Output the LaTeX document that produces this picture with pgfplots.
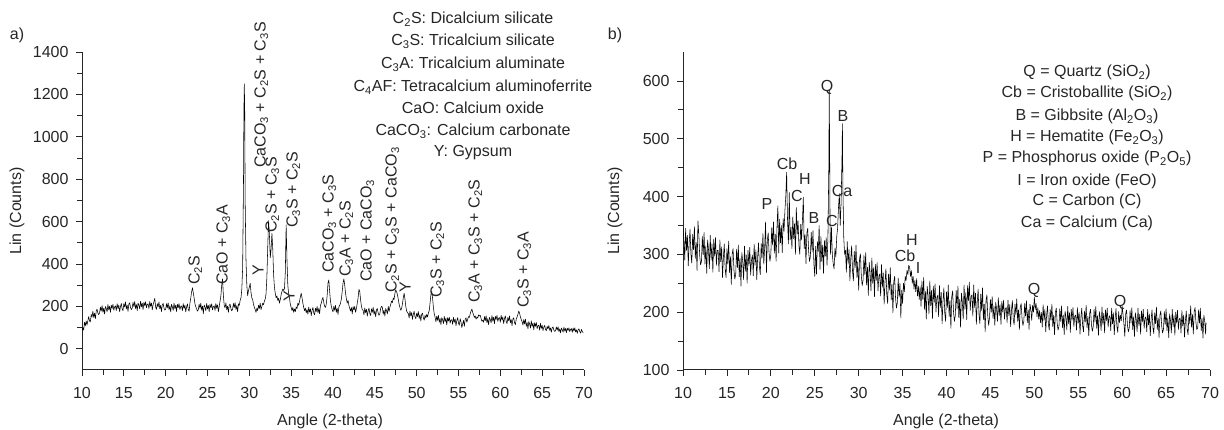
\documentclass[border=0pt]{standalone}
\usepackage{pgfplots}
\pgfplotsset{compat=1.18}
\usepackage{fontspec}
\setmainfont{Liberation Sans}
\newcommand{\s}[1]{\textsubscript{#1}}
\begin{document}
\begin{tikzpicture}[x=1pt,y=1pt,font=\fontsize{16}{19}\selectfont,every node/.style={text=black!85}]
\useasboundingbox (0,0) rectangle (1224,430);
\pgfplotsset{xrdaxis/.style={scale only axis, axis lines=left,
  axis line style={-, line width=1pt, black!85}, tick align=outside,
  major tick length=6pt, minor tick length=5pt,
  every tick/.style={black!85, line width=0.8pt},
  xmin=10, xmax=70, xtick={10,15,...,70}, minor x tick num=1, minor y tick num=1,
  tick label style={font=\fontsize{16}{19}\selectfont, text=black!85},
  xticklabel style={yshift=-8pt}, yticklabel style={xshift=-4pt},
  /pgf/number format/assume math mode=true, /pgf/number format/1000 sep={},
  scaled ticks=false, anchor=south west}}
% ---------------- panel a
\begin{axis}[xrdaxis, at={(82pt,60pt)}, width=502pt, height=318pt,
  ymin=-100, ymax=1400, ytick={0,200,...,1400}]
\addplot[black, line width=0.55pt, mark=none, line join=round] coordinates {
(10.0,85) (10.1,100) (10.2,88) (10.3,125) (10.4,108) (10.5,131) (10.6,112) (10.7,133) (10.8,152) (10.9,131)
(11.0,127) (11.1,162) (11.2,149) (11.3,177) (11.4,148) (11.5,168) (11.6,142) (11.7,178) (11.8,187) (11.9,168)
(12.0,161) (12.1,169) (12.2,197) (12.3,178) (12.4,204) (12.5,172) (12.6,192) (12.7,164) (12.8,199) (12.9,190)
(13.0,174) (13.1,209) (13.2,184) (13.3,201) (13.4,172) (13.5,206) (13.6,190) (13.7,210) (13.8,182) (13.9,198)
(14.0,202) (14.1,180) (14.2,213) (14.3,190) (14.4,206) (14.5,175) (14.6,199) (14.7,214) (14.8,188) (14.9,180)
(15.0,213) (15.1,197) (15.2,221) (15.3,188) (15.4,206) (15.5,177) (15.6,211) (15.7,217) (15.8,195) (15.9,185)
(16.0,192) (16.1,219) (16.2,199) (16.3,223) (16.4,190) (16.5,209) (16.6,180) (16.7,216) (16.8,206) (16.9,188)
(17.0,224) (17.1,198) (17.2,215) (17.3,185) (17.4,219) (17.5,203) (17.6,222) (17.7,194) (17.8,209) (17.9,212)
(18.0,190) (18.1,223) (18.2,200) (18.3,216) (18.4,184) (18.5,208) (18.6,222) (18.7,238) (18.8,196) (18.9,186)
(19.0,213) (19.1,197) (19.2,221) (19.3,188) (19.4,205) (19.5,176) (19.6,208) (19.7,214) (19.8,192) (19.9,182)
(20.0,186) (20.1,213) (20.2,193) (20.3,217) (20.4,184) (20.5,203) (20.6,174) (20.7,209) (20.8,199) (20.9,181)
(21.0,215) (21.1,189) (21.2,206) (21.3,176) (21.4,210) (21.5,194) (21.6,213) (21.7,185) (21.8,200) (21.9,202)
(22.0,180) (22.1,213) (22.2,190) (22.3,206) (22.4,174) (22.5,198) (22.6,212) (22.7,186) (22.8,177) (22.9,215)
(23.0,240) (23.1,268) (23.2,288) (23.3,265) (23.4,240) (23.5,212) (23.6,198) (23.7,188) (23.8,178) (23.9,184)
(24.0,211) (24.1,191) (24.2,215) (24.3,182) (24.4,201) (24.5,165) (24.6,207) (24.7,197) (24.8,179) (24.9,214)
(25.0,188) (25.1,205) (25.2,175) (25.3,209) (25.4,193) (25.5,212) (25.6,184) (25.7,199) (25.8,203) (25.9,181)
(26.0,214) (26.1,191) (26.2,207) (26.3,175) (26.4,199) (26.5,225) (26.6,250) (26.7,300) (26.8,330) (26.9,250)
(27.0,205) (27.1,193) (27.2,217) (27.3,184) (27.4,201) (27.5,172) (27.6,205) (27.7,211) (27.8,189) (27.9,179)
(28.0,187) (28.1,214) (28.2,194) (28.3,218) (28.4,185) (28.5,204) (28.6,175) (28.7,212) (28.8,205) (28.9,228)
(29.0,240) (29.1,280) (29.2,380) (29.3,780) (29.35,1120) (29.4,1250) (29.45,1120) (29.5,700) (29.6,420) (29.7,300)
(29.8,250) (29.9,275) (30.0,290) (30.1,310) (30.2,265) (30.3,240) (30.4,232) (30.5,210) (30.6,195) (30.7,185)
(30.8,172) (30.9,192) (31.0,180) (31.1,205) (31.2,190) (31.3,215) (31.4,185) (31.5,200) (31.6,215) (31.7,208)
(31.8,225) (31.9,235) (32.0,260) (32.1,340) (32.2,480) (32.3,605) (32.4,540) (32.5,430) (32.6,470) (32.7,545)
(32.8,470) (32.9,350) (33.0,290) (33.1,262) (33.2,240) (33.3,250) (33.4,228) (33.5,238) (33.6,215) (33.7,232)
(33.8,255) (33.9,270) (34.0,282) (34.1,275) (34.2,285) (34.3,360) (34.4,585) (34.5,420) (34.6,300) (34.7,260)
(34.8,240) (34.9,210) (35.0,195) (35.1,180) (35.2,195) (35.3,172) (35.4,188) (35.5,175) (35.6,198) (35.7,190)
(35.8,215) (35.9,205) (36.0,225) (36.1,245) (36.2,262) (36.3,240) (36.4,215) (36.5,195) (36.6,180) (36.7,192)
(36.8,170) (36.9,185) (37.0,163) (37.1,196) (37.2,173) (37.3,189) (37.4,157) (37.5,181) (37.6,195) (37.7,169)
(37.8,160) (37.9,191) (38.0,176) (38.1,200) (38.2,170) (38.3,190) (38.4,165) (38.5,205) (38.6,215) (38.7,232)
(38.8,242) (38.9,218) (39.0,200) (39.1,195) (39.2,212) (39.3,250) (39.4,310) (39.5,325) (39.6,270) (39.7,225)
(39.8,200) (39.9,185) (40.0,174) (40.1,201) (40.2,181) (40.3,205) (40.4,172) (40.5,191) (40.6,162) (40.7,197)
(40.8,205) (40.9,215) (41.0,235) (41.1,270) (41.2,310) (41.3,330) (41.4,300) (41.5,262) (41.6,235) (41.7,215)
(41.8,228) (41.9,205) (42.0,190) (42.1,178) (42.2,195) (42.3,165) (42.4,199) (42.5,183) (42.6,200) (42.7,172)
(42.8,190) (42.9,215) (43.0,240) (43.1,280) (43.2,270) (43.3,230) (43.4,200) (43.5,185) (43.6,182) (43.7,160)
(43.8,193) (43.9,170) (44.0,186) (44.1,154) (44.2,178) (44.3,192) (44.4,166) (44.5,157) (44.6,188) (44.7,172)
(44.8,196) (44.9,163) (45.0,180) (45.1,151) (45.2,184) (45.3,190) (45.4,168) (45.5,158) (45.6,165) (45.7,192)
(45.8,200) (45.9,196) (46.0,163) (46.1,182) (46.2,154) (46.3,190) (46.4,180) (46.5,164) (46.6,200) (46.7,176)
(46.8,196) (46.9,210) (47.0,225) (47.1,218) (47.2,240) (47.3,232) (47.4,262) (47.5,278) (47.6,270) (47.7,255)
(47.8,235) (47.9,210) (48.0,195) (48.1,182) (48.2,190) (48.3,212) (48.4,240) (48.5,262) (48.6,235) (48.7,200)
(48.8,178) (48.9,170) (49.0,167) (49.1,145) (49.2,178) (49.3,155) (49.4,171) (49.5,139) (49.6,163) (49.7,177)
(49.8,151) (49.9,142) (50.0,168) (50.1,152) (50.2,176) (50.3,143) (50.4,160) (50.5,131) (50.6,163) (50.7,168)
(50.8,146) (50.9,135) (51.0,158) (51.1,145) (51.2,162) (51.3,150) (51.4,168) (51.5,180) (51.6,215) (51.7,255)
(51.8,272) (51.9,240) (52.0,195) (52.1,165) (52.2,150) (52.3,127) (52.4,154) (52.5,134) (52.6,158) (52.7,125)
(52.8,143) (52.9,114) (53.0,147) (53.1,137) (53.2,119) (53.3,153) (53.4,127) (53.5,144) (53.6,113) (53.7,147)
(53.8,131) (53.9,149) (54.0,121) (54.1,136) (54.2,137) (54.3,115) (54.4,148) (54.5,125) (54.6,141) (54.7,109)
(54.8,133) (54.9,147) (55.0,121) (55.1,111) (55.2,142) (55.3,126) (55.4,100) (55.5,117) (55.6,134) (55.7,106)
(55.8,139) (55.9,146) (56.0,125) (56.1,140) (56.2,152) (56.3,148) (56.4,165) (56.5,178) (56.6,187) (56.7,172)
(56.8,160) (56.9,148) (57.0,155) (57.1,140) (57.2,150) (57.3,145) (57.4,160) (57.5,155) (57.6,158) (57.7,142)
(57.8,130) (57.9,135) (58.0,125) (58.1,152) (58.2,132) (58.3,156) (58.4,123) (58.5,142) (58.6,113) (58.7,148)
(58.8,139) (58.9,122) (59.0,157) (59.1,131) (59.2,149) (59.3,119) (59.4,153) (59.5,138) (59.6,157) (59.7,129)
(59.8,144) (59.9,147) (60.0,125) (60.1,158) (60.2,135) (60.3,151) (60.4,119) (60.5,143) (60.6,155) (60.7,129)
(60.8,119) (60.9,148) (61.0,132) (61.1,155) (61.2,122) (61.3,138) (61.4,109) (61.5,141) (61.6,146) (61.7,123)
(61.8,114) (61.9,140) (62.0,150) (62.1,162) (62.2,178) (62.3,168) (62.4,150) (62.5,138) (62.6,128) (62.7,112)
(62.8,138) (62.9,117) (63.0,140) (63.1,106) (63.2,124) (63.3,94) (63.4,128) (63.5,117) (63.6,98) (63.7,132)
(63.8,105) (63.9,121) (64.0,90) (64.1,123) (64.2,106) (64.3,124) (64.4,95) (64.5,109) (64.6,111) (64.7,88)
(64.8,120) (64.9,96) (65.0,111) (65.1,86) (65.2,102) (65.3,110) (65.4,92) (65.5,85) (65.6,106) (65.7,94)
(65.8,110) (65.9,87) (66.0,98) (66.1,78) (66.2,100) (66.3,103) (66.4,88) (66.5,82) (66.6,85) (66.7,103)
(66.8,88) (66.9,104) (67.0,81) (67.1,94) (67.2,75) (67.3,98) (67.4,90) (67.5,78) (67.6,102) (67.7,84)
(67.8,96) (67.9,76) (68.0,97) (68.1,87) (68.2,99) (68.3,81) (68.4,91) (68.5,95) (68.6,78) (68.7,98)
(68.8,84) (68.9,99) (69.0,79) (69.1,89) (69.2,73) (69.3,90) (69.4,94) (69.5,80) (69.6,74) (69.7,91)
(69.8,81) (69.9,76)
};
\end{axis}
% ---------------- panel b
\begin{axis}[xrdaxis, at={(683pt,60pt)}, width=527pt, height=318pt,
  ymin=100, ymax=650, ytick={100,200,...,600}]
\addplot[black, line width=0.55pt, mark=none, line join=round] coordinates {
(10.0,345) (10.1,327) (10.2,290) (10.3,345) (10.4,307) (10.5,333) (10.6,280) (10.7,320) (10.8,343) (10.9,300)
(11.0,285) (11.1,335) (11.2,308) (11.3,348) (11.4,293) (11.5,321) (11.6,272) (11.7,358) (11.8,335) (11.9,298)
(12.0,282) (12.1,287) (12.2,331) (12.3,299) (12.4,338) (12.5,283) (12.6,315) (12.7,267) (12.8,325) (12.9,309)
(13.0,275) (13.1,333) (13.2,290) (13.3,318) (13.4,269) (13.5,326) (13.6,297) (13.7,329) (13.8,281) (13.9,307)
(14.0,307) (14.1,270) (14.2,325) (14.3,287) (14.4,313) (14.5,260) (14.6,295) (14.7,318) (14.8,275) (14.9,260)
(15.0,310) (15.1,283) (15.2,323) (15.3,268) (15.4,296) (15.5,248) (15.6,301) (15.7,310) (15.8,273) (15.9,257)
(16.0,265) (16.1,309) (16.2,277) (16.3,316) (16.4,261) (16.5,293) (16.6,245) (16.7,303) (16.8,287) (16.9,256)
(17.0,314) (17.1,271) (17.2,299) (17.3,250) (17.4,307) (17.5,280) (17.6,312) (17.7,264) (17.8,290) (17.9,299)
(18.0,263) (18.1,318) (18.2,281) (18.3,308) (18.4,256) (18.5,296) (18.6,320) (18.7,278) (18.8,265) (18.9,319)
(19.0,294) (19.1,336) (19.2,283) (19.3,313) (19.4,356) (19.5,268) (19.6,325) (19.7,337) (19.8,302) (19.9,288)
(20.0,300) (20.1,346) (20.2,316) (20.3,356) (20.4,302) (20.5,335) (20.6,288) (20.7,347) (20.8,384) (20.9,302)
(21.0,361) (21.1,320) (21.2,350) (21.3,303) (21.4,362) (21.5,340) (21.6,375) (21.7,400) (21.8,442) (21.9,360)
(22.0,318) (22.1,407) (22.2,325) (22.3,347) (22.4,310) (22.5,365) (22.6,327) (22.7,353) (22.8,300) (22.9,381)
(23.0,335) (23.1,358) (23.2,315) (23.3,300) (23.4,352) (23.5,325) (23.6,360) (23.7,399) (23.8,310) (23.9,334)
(24.0,284) (24.1,337) (24.2,345) (24.3,306) (24.4,288) (24.5,296) (24.6,338) (24.7,304) (24.8,341) (24.9,284)
(25.0,262) (25.1,314) (25.2,266) (25.3,322) (25.4,305) (25.5,350) (25.6,274) (25.7,331) (25.8,288) (25.9,316)
(26.0,267) (26.1,324) (26.2,297) (26.3,329) (26.4,281) (26.5,330) (26.6,450) (26.65,585) (26.7,470) (26.75,330)
(26.8,300) (26.9,347) (27.0,300) (27.1,284) (27.2,275) (27.3,310) (27.4,295) (27.5,330) (27.6,345) (27.7,380)
(27.8,405) (27.9,350) (28.0,390) (28.1,465) (28.15,526) (28.2,420) (28.3,330) (28.4,300) (28.5,307) (28.6,269)
(28.7,322) (28.8,283) (28.9,308) (29.0,254) (29.1,293) (29.2,315) (29.3,271) (29.4,254) (29.5,305) (29.6,277)
(29.7,316) (29.8,260) (29.9,287) (30.0,238) (30.1,292) (30.2,301) (30.3,263) (30.4,246) (30.5,255) (30.6,298)
(30.7,265) (30.8,303) (30.9,247) (31.0,278) (31.1,229) (31.2,286) (31.3,269) (31.4,237) (31.5,294) (31.6,250)
(31.7,277) (31.8,227) (31.9,283) (32.0,255) (32.1,286) (32.2,237) (32.3,262) (32.4,266) (32.5,228) (32.6,282)
(32.7,243) (32.8,268) (32.9,214) (33.0,253) (33.1,275) (33.2,231) (33.3,215) (33.4,266) (33.5,238) (33.6,277)
(33.7,221) (33.8,248) (33.9,199) (34.0,253) (34.1,262) (34.2,224) (34.3,207) (34.4,216) (34.5,259) (34.6,226)
(34.7,250) (34.8,190) (34.9,238) (35.0,215) (35.1,250) (35.2,235) (35.3,262) (35.4,255) (35.5,272) (35.6,265)
(35.7,281) (35.8,278) (35.9,262) (36.0,272) (36.1,250) (36.2,262) (36.3,240) (36.4,255) (36.5,235) (36.6,258)
(36.7,228) (36.8,245) (36.9,222) (37.0,244) (37.1,210) (37.2,254) (37.3,222) (37.4,260) (37.5,205) (37.6,236)
(37.7,188) (37.8,245) (37.9,229) (38.0,197) (38.1,254) (38.2,211) (38.3,238) (38.4,189) (38.5,245) (38.6,217)
(38.7,249) (38.8,200) (38.9,225) (39.0,229) (39.1,192) (39.2,246) (39.3,208) (39.4,234) (39.5,180) (39.6,219)
(39.7,242) (39.8,199) (39.9,184) (40.0,235) (40.1,208) (40.2,247) (40.3,192) (40.4,220) (40.5,172) (40.6,227)
(40.7,237) (40.8,200) (40.9,184) (41.0,194) (41.1,238) (41.2,206) (41.3,245) (41.4,190) (41.5,222) (41.6,174)
(41.7,233) (41.8,218) (41.9,188) (42.0,247) (42.1,205) (42.2,234) (42.3,187) (42.4,246) (42.5,220) (42.6,252)
(42.7,203) (42.8,227) (42.9,230) (43.0,193) (43.1,247) (43.2,208) (43.3,233) (43.4,179) (43.5,218) (43.6,240)
(43.7,196) (43.8,180) (43.9,231) (44.0,203) (44.1,242) (44.2,187) (44.3,214) (44.4,166) (44.5,220) (44.6,230)
(44.7,193) (44.8,177) (44.9,191) (45.0,222) (45.1,200) (45.2,227) (45.3,189) (45.4,211) (45.5,177) (45.6,217)
(45.7,206) (45.8,184) (45.9,225) (46.0,194) (46.1,213) (46.2,179) (46.3,219) (46.4,200) (46.5,221) (46.6,188)
(46.7,206) (46.8,208) (46.9,182) (47.0,221) (47.1,194) (47.2,213) (47.3,175) (47.4,204) (47.5,220) (47.6,188)
(47.7,178) (47.8,214) (47.9,195) (48.0,223) (48.1,184) (48.2,204) (48.3,170) (48.4,209) (48.5,215) (48.6,189)
(48.7,177) (48.8,184) (48.9,215) (49.0,193) (49.1,220) (49.2,182) (49.3,204) (49.4,170) (49.5,214) (49.6,205)
(49.7,186) (49.8,212) (49.9,200) (50.0,226) (50.1,205) (50.2,215) (50.3,192) (50.4,208) (50.5,188) (50.6,203)
(50.7,182) (50.8,200) (50.9,174) (51.0,213) (51.1,186) (51.2,205) (51.3,166) (51.4,195) (51.5,211) (51.6,179)
(51.7,169) (51.8,205) (51.9,186) (52.0,214) (52.1,175) (52.2,195) (52.3,161) (52.4,200) (52.5,207) (52.6,181)
(52.7,169) (52.8,175) (52.9,206) (53.0,184) (53.1,211) (53.2,173) (53.3,195) (53.4,161) (53.5,202) (53.6,191)
(53.7,169) (53.8,210) (53.9,180) (54.0,199) (54.1,165) (54.2,205) (54.3,186) (54.4,208) (54.5,175) (54.6,193)
(54.7,195) (54.8,169) (54.9,208) (55.0,181) (55.1,200) (55.2,162) (55.3,191) (55.4,207) (55.5,176) (55.6,166)
(55.7,202) (55.8,183) (55.9,212) (56.0,173) (56.1,193) (56.2,159) (56.3,198) (56.4,205) (56.5,179) (56.6,167)
(56.7,174) (56.8,205) (56.9,183) (57.0,210) (57.1,172) (57.2,194) (57.3,160) (57.4,201) (57.5,190) (57.6,168)
(57.7,209) (57.8,179) (57.9,198) (58.0,164) (58.1,204) (58.2,185) (58.3,207) (58.4,174) (58.5,192) (58.6,194)
(58.7,168) (58.8,207) (58.9,180) (59.0,199) (59.1,161) (59.2,190) (59.3,206) (59.4,175) (59.5,165) (59.6,201)
(59.7,182) (59.8,195) (59.9,185) (60.0,210) (60.1,196) (60.2,180) (60.3,158) (60.4,197) (60.5,204) (60.6,178)
(60.7,166) (60.8,172) (60.9,203) (61.0,181) (61.1,208) (61.2,170) (61.3,192) (61.4,158) (61.5,199) (61.6,188)
(61.7,166) (61.8,207) (61.9,177) (62.0,196) (62.1,162) (62.2,202) (62.3,183) (62.4,205) (62.5,172) (62.6,190)
(62.7,192) (62.8,166) (62.9,205) (63.0,178) (63.1,197) (63.2,159) (63.3,188) (63.4,204) (63.5,173) (63.6,163)
(63.7,199) (63.8,180) (63.9,209) (64.0,170) (64.1,190) (64.2,156) (64.3,195) (64.4,202) (64.5,176) (64.6,164)
(64.7,170) (64.8,201) (64.9,179) (65.0,206) (65.1,168) (65.2,190) (65.3,156) (65.4,197) (65.5,186) (65.6,164)
(65.7,205) (65.8,175) (65.9,194) (66.0,160) (66.1,200) (66.2,181) (66.3,203) (66.4,170) (66.5,188) (66.6,190)
(66.7,164) (66.8,203) (66.9,176) (67.0,195) (67.1,157) (67.2,186) (67.3,202) (67.4,171) (67.5,161) (67.6,197)
(67.7,180) (67.8,211) (67.9,174) (68.0,196) (68.1,162) (68.2,201) (68.3,208) (68.4,182) (68.5,170) (68.6,173)
(68.7,204) (68.8,181) (68.9,207) (69.0,168) (69.1,189) (69.2,155) (69.3,195) (69.4,184) (69.5,162) (69.55,182)
};
\end{axis}
% ---------------- axis titles and panel letters
\node[rotate=90] at (17,219) {Lin (Counts)};
\node[rotate=90] at (615,219) {Lin (Counts)};
\node at (330,9) {Angle (2-theta)};
\node at (946,9) {Angle (2-theta)};
\node at (17,395) {a)};
\node at (615,395) {b)};
% ---------------- legend a
\begin{scope}[every node/.style={anchor=base, inner sep=0, text=black!85}]
\node at (473,406) {C\s{2}S: Dicalcium silicate};
\node at (473,384) {C\s{3}S: Tricalcium silicate};
\node at (473,361) {C\s{3}A: Tricalcium aluminate};
\node at (473,338) {C\s{4}AF: Tetracalcium aluminoferrite};
\node at (473,316) {CaO: Calcium oxide};
\node at (473,294) {CaCO\s{3}: Calcium carbonate};
\node at (473,273) {Y: Gypsum};
% legend b
\node at (1087,353) {Q = Quartz (SiO\s{2})};
\node at (1087,332) {Cb = Cristoballite (SiO\s{2})};
\node at (1087,309) {B = Gibbsite (Al\s{2}O\s{3})};
\node at (1087,288) {H = Hematite (Fe\s{2}O\s{3})};
\node at (1087,267) {P = Phosphorus oxide (P\s{2}O\s{5})};
\node at (1087,244) {I = Iron oxide (FeO)};
\node at (1087,224) {C = Carbon (C)};
\node at (1087,202) {Ca = Calcium (Ca)};
% peak letters b
\node at (767,220) {P};
\node at (787,260) {Cb};
\node at (805,245) {H};
\node at (797,228) {C};
\node at (814,206) {B};
\node at (827,338) {Q};
\node at (843,308) {B};
\node at (842,233) {Ca};
\node at (832,203) {C};
\node at (912,184) {H};
\node at (905,168) {Cb};
\node at (918,156) {I};
\node at (1034,135) {Q};
\node at (1120,123) {Q};
\end{scope}
% ---------------- rotated peak labels a
\begin{scope}[every node/.style={rotate=90, anchor=base west, inner sep=0, text=black!85}]
\node at (199.5,145) {C\s{2}S};
\node at (227.5,145) {CaO + C\s{3}A};
\node at (265.5,262) {CaCO\s{3} + C\s{2}S + C\s{3}S};
\node at (276.5,197) {C\s{2}S + C\s{3}S};
\node at (297.5,202) {C\s{3}S + C\s{2}S};
\node at (263.5,154) {Y};
\node at (294.5,128) {Y};
\node at (333.5,157) {CaCO\s{3} + C\s{3}S};
\node at (350.5,153) {C\s{3}A + C\s{2}S};
\node at (371.5,148) {CaO + CaCO\s{3}};
\node at (396.5,137) {C\s{2}S + C\s{3}S + CaCO\s{3}};
\node at (410.5,137) {Y};
\node at (441.5,132) {C\s{3}S + C\s{2}S};
\node at (479.5,127) {C\s{3}A + C\s{3}S + C\s{2}S};
\node at (528.5,122) {C\s{3}S + C\s{3}A};
\end{scope}
\end{tikzpicture}
\end{document}
